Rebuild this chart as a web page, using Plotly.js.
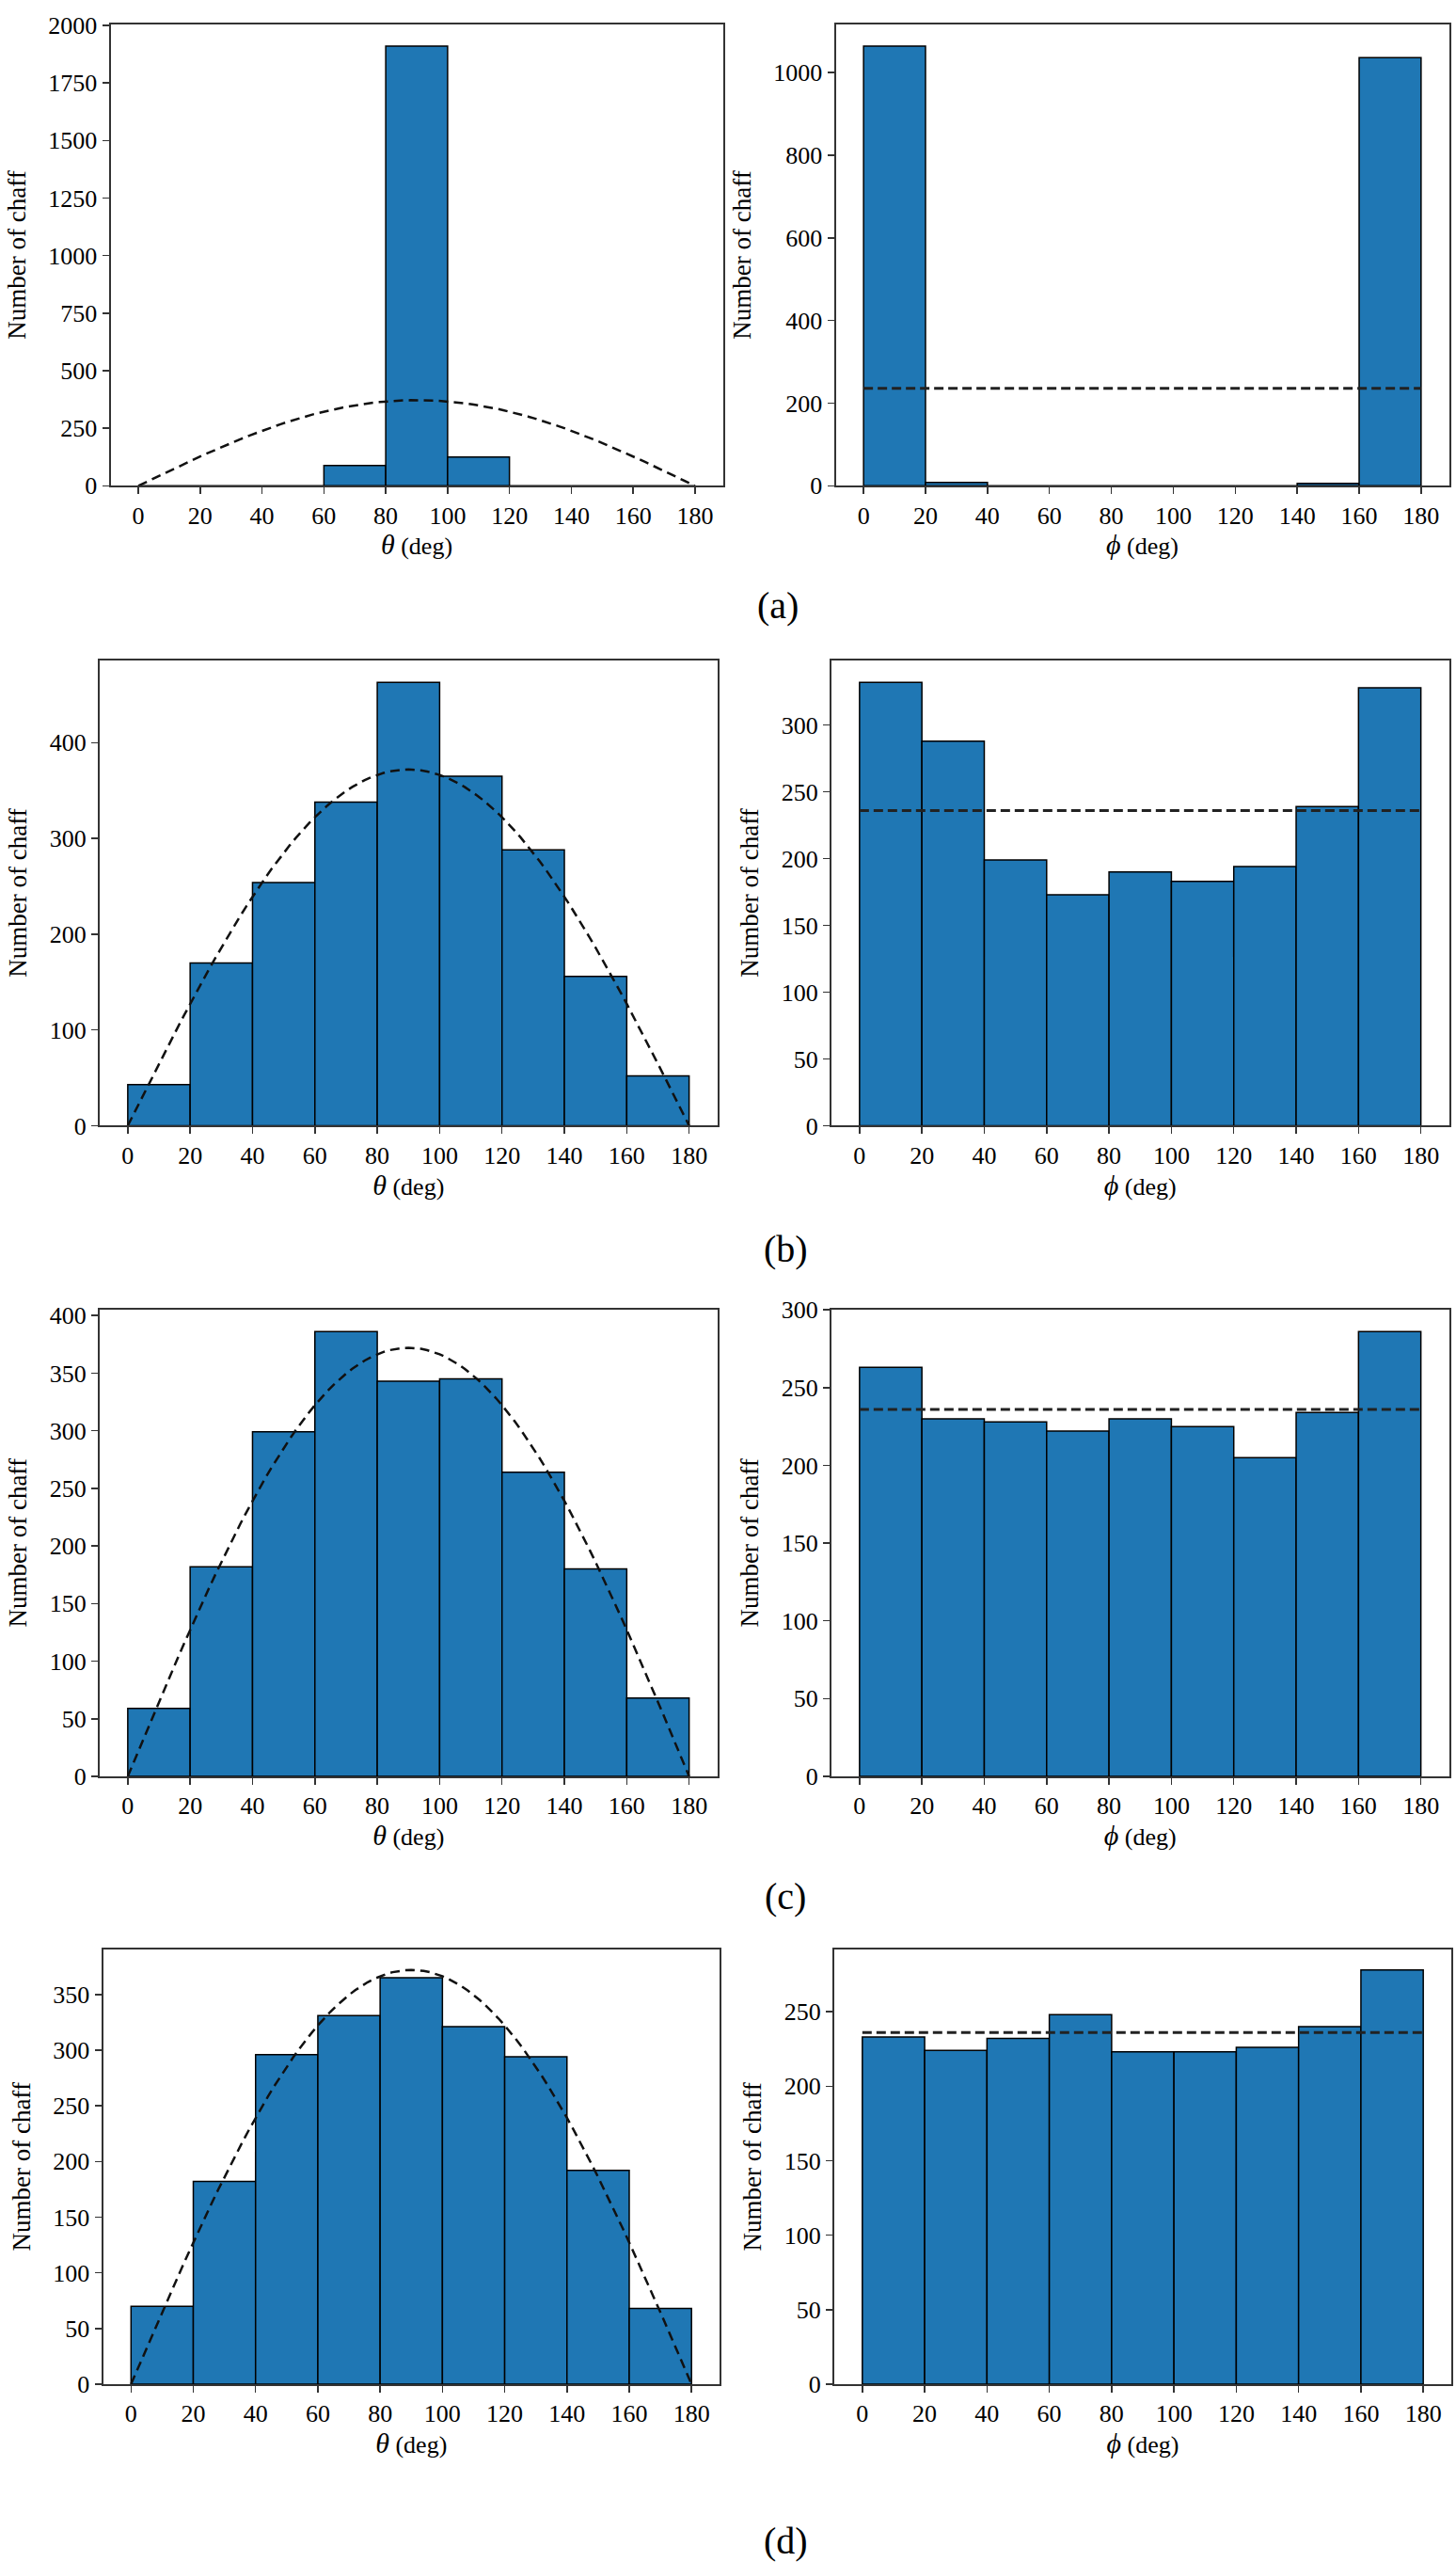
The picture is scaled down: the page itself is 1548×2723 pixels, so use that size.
<!DOCTYPE html>
<html>
<head>
<meta charset="utf-8">
<script src="https://cdn.plot.ly/plotly-3.0.1.min.js"></script>
<style>html,body{margin:0;padding:0;background:#fff;}</style>
</head>
<body>
<div id="chart" style="width:1548px;height:2723px;"></div>
<script>
// ---------------- data ----------------
const binStarts = [0, 20, 40, 60, 80, 100, 120, 140, 160];   // histogram bin left edges (deg)
const binWidth = 20;
const xTickVals = [0, 20, 40, 60, 80, 100, 120, 140, 160, 180];

const thetaA = [0, 0, 0, 88, 1910, 125, 0, 0, 0];
const phiA   = [1064, 8, 0, 0, 0, 0, 0, 6, 1036];
const thetaB = [43, 170, 254, 338, 463, 365, 288, 156, 52];
const phiB   = [332, 288, 199, 173, 190, 183, 194, 239, 328];
const thetaC = [59, 182, 299, 386, 343, 345, 264, 180, 68];
const phiC   = [263, 230, 228, 222, 230, 225, 205, 234, 286];
const thetaD = [70, 182, 296, 331, 365, 321, 294, 192, 68];
const phiD   = [233, 224, 232, 248, 223, 223, 226, 240, 278];

// reference (isotropic) distributions drawn as dashed lines
const thetaRefPeak = 372;   // peak of the sin(theta) reference curve
const phiRefLevel  = 236;   // flat reference level for phi

const panelLabels = ['(a)', '(b)', '(c)', '(d)'];
const yTitle = 'Number of chaff';
const thetaTitle = '<span style="font-size:30px"><i>θ</i></span> (deg)';
const phiTitle   = '<span style="font-size:30px"><i>ϕ</i></span> (deg)';

// ---------------- layout (pixel geometry of the figure) ----------------
const W = 1548, H = 2723;
const rows = [
  {top: 25.7,   bottom: 516.3, L: [117.5, 768.5], R: [888.5, 1540.5], cap: [827, 643],  dt: [250, 200]},
  {top: 701.7,  bottom: 1196.4, L: [106, 762.5],  R: [884, 1540.5],   cap: [835, 1327], dt: [100, 50]},
  {top: 1391.7, bottom: 1888,   L: [106, 762.5],  R: [884, 1540.5],   cap: [835, 2015], dt: [50, 50]},
  {top: 2071.7, bottom: 2534,   L: [109.5, 765],  R: [887, 1543],     cap: [835, 2700], dt: [50, 50]}
];
const thetaSets = [thetaA, thetaB, thetaC, thetaD];
const phiSets   = [phiA, phiB, phiC, phiD];

const FONT = 'Liberation Serif, Times New Roman, serif';
const BAR_COLOR = '#1f77b4';
const FRAME = '#333333';

const binCenters = binStarts.map(s => s + binWidth / 2);
// theoretical reference curve for an isotropic orientation: peak * sin(theta)
const refTheta = [];
for (let t = 0; t <= 180; t += 2) refTheta.push(t);
const refThetaY = refTheta.map(t => thetaRefPeak * Math.sin(t * Math.PI / 180));

const data = [];
const layout = {
  width: W, height: H,
  margin: {l: 0, r: 0, t: 0, b: 0},
  paper_bgcolor: '#ffffff', plot_bgcolor: '#ffffff',
  showlegend: false,
  font: {family: FONT, size: 26, color: '#000'},
  annotations: []
};

function axisCommon() {
  return {
    showline: true, mirror: true, linecolor: FRAME, linewidth: 2,
    ticks: 'outside', ticklen: 7, tickwidth: 1.5, tickcolor: FRAME,
    showgrid: false, zeroline: false,
    tickfont: {family: FONT, size: 26, color: '#000'},
    automargin: false
  };
}

rows.forEach((row, r) => {
  ['L', 'R'].forEach((side, s) => {
    const idx = r * 2 + s + 1;
    const xName = 'x' + idx, yName = 'y' + idx;
    const xKey = 'xaxis' + idx, yKey = 'yaxis' + idx;
    const values = s === 0 ? thetaSets[r] : phiSets[r];
    const refMax = s === 0 ? thetaRefPeak : phiRefLevel;
    const yMax = 1.05 * Math.max(Math.max(...values), refMax);

    data.push({
      type: 'bar', x: binCenters, y: values, width: binWidth,
      xaxis: xName, yaxis: yName,
      marker: {color: BAR_COLOR, line: {color: '#000', width: 1.5}},
      hoverinfo: 'x+y'
    });
    if (s === 0) {
      data.push({
        type: 'scatter', mode: 'lines', x: refTheta, y: refThetaY,
        xaxis: xName, yaxis: yName,
        line: {color: '#111', width: 2.5, dash: '10px,6px'}
      });
    } else {
      data.push({
        type: 'scatter', mode: 'lines', x: [0, 180], y: [phiRefLevel, phiRefLevel],
        xaxis: xName, yaxis: yName,
        line: {color: '#222', width: 3, dash: '10px,5px'}
      });
    }

    const px = row[side];
    layout[xKey] = Object.assign(axisCommon(), {
      domain: [px[0] / W, px[1] / W],
      anchor: yName,
      range: [-9, 189],
      tickmode: 'array', tickvals: xTickVals,
      title: {text: s === 0 ? thetaTitle : phiTitle, standoff: 8,
              font: {family: FONT, size: 26, color: '#000'}}
    });
    layout[yKey] = Object.assign(axisCommon(), {
      domain: [1 - row.bottom / H, 1 - row.top / H],
      anchor: xName,
      range: [0, yMax],
      tick0: 0, dtick: row.dt[s],
      title: {text: yTitle, standoff: 16,
              font: {family: FONT, size: 27, color: '#000'}}
    });
  });
  layout.annotations.push({
    xref: 'paper', yref: 'paper',
    x: row.cap[0] / W, y: 1 - row.cap[1] / H,
    xanchor: 'center', yanchor: 'middle',
    text: panelLabels[r], showarrow: false,
    font: {family: FONT, size: 40, color: '#000'}
  });
});

Plotly.newPlot('chart', data, layout, {displayModeBar: false, staticPlot: true});
</script>
</body>
</html>
